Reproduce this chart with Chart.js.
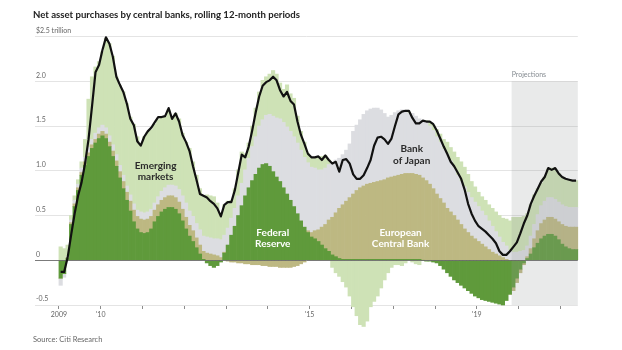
<!DOCTYPE html>
<html><head><meta charset="utf-8">
<script src="https://cdn.jsdelivr.net/npm/chart.js@4.4.1/dist/chart.umd.min.js"></script>
<style>
html,body{margin:0;padding:0;background:#fff;}
#wrap{position:relative;width:622px;height:350px;overflow:hidden;}
#c{position:absolute;left:0;top:0;}
#title{position:absolute;left:33px;top:8.5px;font:700 9.6px/12px Lato, sans-serif;color:#222;white-space:nowrap;}
#source{position:absolute;left:33px;top:335px;font:400 7.5px/10px Lato, sans-serif;color:#666;white-space:nowrap;}
</style></head><body>
<div id="wrap">
<canvas id="c" width="622" height="350"></canvas>
<div id="title">Net asset purchases by central banks, rolling 12-month periods</div>
<div id="source">Source: Citi Research</div>
</div>
<script>
// Monthly, Jan 2009 onward, $ trillion, rolling 12-month net purchases
const fed = [-0.20,-0.15,0.02,0.40,0.60,0.78,0.95,1.06,1.16,1.25,1.31,1.36,1.39,1.36,1.27,1.16,1.05,0.92,0.80,0.67,0.55,0.43,0.35,0.31,0.30,0.31,0.35,0.43,0.49,0.54,0.57,0.59,0.59,0.57,0.52,0.44,0.35,0.27,0.21,0.14,0.07,0.01,-0.03,-0.06,-0.08,-0.06,-0.02,0.08,0.17,0.28,0.38,0.50,0.61,0.72,0.81,0.89,0.96,1.03,1.07,1.08,1.05,0.99,0.93,0.88,0.81,0.74,0.67,0.60,0.52,0.44,0.37,0.31,0.26,0.24,0.21,0.17,0.13,0.10,0.06,0.04,0.02,
0.01,0.01,0.01,0.01,0.01,0.01,0.01,0.01,0.01,0.01,0.01,0.01,0.01,0.01,0.01,0.01,0.01,0.01,0.01,0.01,0.01,0.01,0.01,
0.00,-0.01,-0.01,-0.02,-0.03,-0.06,-0.10,-0.14,-0.18,-0.22,-0.25,-0.28,-0.31,-0.34,-0.37,-0.40,-0.42,-0.44,-0.45,-0.46,-0.47,-0.48,-0.49,-0.50,-0.45,-0.38,-0.30,-0.20,-0.10,-0.03,0.02,0.07,0.14,0.19,0.24,0.27,0.29,0.29,0.27,0.23,0.18,0.15,0.13,0.12,0.12];
const ecb = [0,0,0.01,0.02,0.03,0.03,0.03,0.04,0.04,0.04,0.04,0.05,0.05,0.05,0.05,0.06,0.06,0.07,0.08,0.09,0.11,0.13,0.14,0.15,0.15,0.15,0.14,0.13,0.13,0.13,0.13,0.13,0.13,0.13,0.13,0.13,0.13,0.12,0.12,0.11,0.10,0.09,0.08,0.07,0.06,0.05,0.03,0.01,-0.01,-0.02,-0.02,-0.03,-0.03,-0.04,-0.04,-0.05,-0.05,-0.05,-0.06,-0.06,-0.07,-0.07,-0.07,-0.08,-0.08,-0.08,-0.08,-0.07,-0.06,-0.04,-0.02,0.02,0.05,0.09,0.13,0.20,0.27,0.35,0.42,0.49,0.56,0.61,0.65,0.69,0.73,0.77,0.80,0.82,0.84,0.85,0.86,0.87,0.88,0.89,0.91,0.92,0.93,0.94,0.95,0.96,0.96,0.96,0.95,0.94,0.92,0.89,0.85,0.80,0.74,0.69,0.64,0.58,0.54,0.50,0.45,0.40,0.35,0.31,0.27,0.24,0.21,0.18,0.15,0.12,0.09,0.07,0.05,0.03,0.01,0.00,-0.04,-0.05,-0.04,-0.02,0.02,0.06,0.10,0.14,0.17,0.18,0.19,0.19,0.19,0.20,0.22,0.23,0.24,0.25,0.25];
const boj = [-0.08,-0.04,0.01,0.03,0.04,0.04,0.05,0.05,0.06,0.06,0.07,0.07,0.07,0.07,0.07,0.07,0.07,0.07,0.07,0.07,0.07,0.07,0.07,0.08,0.08,0.08,0.08,0.08,0.09,0.10,0.11,0.12,0.12,0.13,0.14,0.15,0.16,0.16,0.16,0.16,0.17,0.17,0.18,0.18,0.18,0.19,0.20,0.19,0.19,0.19,0.20,0.22,0.25,0.29,0.33,0.38,0.42,0.47,0.50,0.54,0.58,0.62,0.66,0.70,0.73,0.75,0.77,0.78,0.79,0.79,0.78,0.76,0.73,0.70,0.67,0.64,0.63,0.62,0.61,0.59,0.56,0.56,0.57,0.60,0.70,0.73,0.76,0.80,0.82,0.83,0.83,0.82,0.79,0.74,0.68,0.69,0.71,0.72,0.72,0.69,0.67,0.67,0.65,0.63,0.64,0.65,0.65,0.65,0.64,0.63,0.60,0.61,0.57,0.53,0.50,0.48,0.47,0.45,0.43,0.41,0.39,0.37,0.35,0.32,0.29,0.25,0.21,0.17,0.15,0.11,0.09,0.09,0.10,0.11,0.12,0.14,0.16,0.18,0.20,0.21,0.22,0.22,0.22,0.22,0.22,0.22,0.22,0.22,0.22];
const em = [0.15,0.13,0.13,0.05,0.05,0.05,0.07,0.20,0.54,0.70,0.74,0.74,0.82,1.00,1.03,0.99,0.87,0.89,0.93,0.92,0.87,0.89,0.82,0.76,0.85,0.89,0.89,0.88,0.86,0.83,0.79,0.84,0.76,0.81,0.79,0.70,0.68,0.70,0.61,0.54,0.46,0.45,0.47,0.47,0.47,0.40,0.28,0.34,0.30,0.20,0.22,0.29,0.35,0.18,0.17,0.23,0.32,0.38,0.44,0.43,0.45,0.51,0.49,0.40,0.37,0.47,0.42,0.43,0.30,0.21,0.17,0.10,0.11,0.12,0.15,0.15,0.14,0.05,-0.08,-0.14,-0.18,-0.24,-0.30,-0.40,-0.52,-0.62,-0.72,-0.74,-0.68,-0.52,-0.46,-0.40,-0.31,-0.22,-0.14,-0.08,-0.05,-0.05,-0.06,-0.03,0.01,-0.02,-0.04,-0.05,0.00,0.02,0.04,0.06,0.08,0.09,0.11,0.13,0.15,0.18,0.20,0.22,0.22,0.20,0.18,0.17,0.16,0.16,0.17,0.18,0.20,0.22,0.24,0.27,0.30,0.33,0.39,0.39,0.38,0.38,0.36,0.35,0.33,0.29,0.25,0.27,0.32,0.33,0.34,0.32,0.31,0.31,0.31,0.30,0.30];
const total = [-0.13,-0.13,0.03,0.28,0.52,0.72,0.87,1.08,1.35,1.72,2.10,2.18,2.35,2.49,2.42,2.27,2.05,1.96,1.88,1.75,1.58,1.51,1.33,1.28,1.38,1.44,1.48,1.54,1.60,1.60,1.61,1.70,1.58,1.64,1.55,1.40,1.32,1.22,1.05,0.90,0.74,0.72,0.70,0.66,0.63,0.58,0.49,0.62,0.65,0.65,0.78,0.98,1.18,1.15,1.27,1.45,1.65,1.83,1.95,1.99,2.01,2.05,2.01,1.90,1.83,1.88,1.78,1.74,1.55,1.40,1.30,1.19,1.15,1.15,1.16,1.12,1.17,1.12,1.08,1.10,0.99,1.12,1.13,1.08,0.96,0.91,0.91,0.95,1.03,1.12,1.28,1.37,1.38,1.35,1.30,1.36,1.50,1.63,1.66,1.67,1.67,1.59,1.53,1.53,1.56,1.55,1.55,1.52,1.45,1.36,1.27,1.19,1.10,1.05,0.98,0.91,0.79,0.63,0.52,0.44,0.38,0.35,0.32,0.28,0.24,0.19,0.10,0.06,0.06,0.10,0.15,0.20,0.30,0.41,0.50,0.63,0.72,0.80,0.88,0.93,1.03,1.01,1.03,0.97,0.93,0.91,0.90,0.89,0.89];

const firstProjectedMonth = 130;           // Nov 2019
const yearTickValues = [-0.5,11.5,23.5,35.5,47.5,59.5,71.5,83.5,95.5,107.5,119.5,131.5,143.5];
const xTickLabels = ['2009',"'10",'','','','',"'15",'','','',"'19",'',''];
const yTickValues = [-0.5,0,0.5,1,1.5,2,2.5];
const yTickLabels = ['-0.5','0','0.5','1.0','1.5','2.0','$2.5 trillion'];

const months = [];
for (let i = 0; i < fed.length; i++) {
  months.push((2009 + Math.floor(i / 12)) + '-' + String(i % 12 + 1).padStart(2, '0'));
}
const toPts = arr => arr.map((v, i) => ({x: i, y: v}));

const COLORS = {fed:'#5f9a3b', ecb:'#bdb882', boj:'#dcdde1', em:'#cee2b6', line:'#111111'};

const labelsPlugin = {
  id: 'wsjExtras',
  afterDatasetDraw(chart, args) {
    if (args.index !== 0) return;
    const {ctx, chartArea, scales:{x, y}} = chart;
    ctx.save();
    const px0 = x.getPixelForValue(firstProjectedMonth - 0.5);
    const py0 = y.getPixelForValue(2.0);
    ctx.fillStyle = 'rgba(150,156,156,0.21)';
    ctx.fillRect(px0, py0, chartArea.right - px0, chartArea.bottom - py0);
    const z = Math.round(y.getPixelForValue(0)) + 0.5;
    ctx.strokeStyle = 'rgba(100,100,100,0.85)';
    ctx.lineWidth = 1;
    ctx.beginPath(); ctx.moveTo(chartArea.left, z); ctx.lineTo(chartArea.right, z); ctx.stroke();
    ctx.restore();
  },
  afterDraw(chart) {
    const {ctx, scales:{x, y}} = chart;
    ctx.save();
    ctx.textAlign = 'center';
    ctx.textBaseline = 'middle';
    const put = (t, xv, yv, color) => { ctx.fillStyle = color; ctx.fillText(t, x.getPixelForValue(xv), y.getPixelForValue(yv)); };
    ctx.font = '700 10px Lato, sans-serif';
    put('Emerging', 27.25, 1.056, '#2b2b2b');
    put('markets', 27.25, 0.936, '#2b2b2b');
    put('Federal', 60.9, 0.312, '#ffffff');
    put('Reserve', 60.9, 0.189, '#ffffff');
    put('European', 97.6, 0.312, '#ffffff');
    put('Central Bank', 97.6, 0.189, '#ffffff');
    put('Bank', 100.8, 1.243, '#2b2b2b');
    put('of Japan', 100.8, 1.112, '#2b2b2b');
    ctx.textAlign = 'left';
    ctx.font = '400 7px Lato, sans-serif';
    put('Projections', firstProjectedMonth - 0.5, 2.07, '#858b91');
    ctx.restore();
  }
};

new Chart(document.getElementById('c'), {
  type: 'bar',
  data: {
    labels: months,
    datasets: [
      {label:'Federal Reserve', data: toPts(fed), backgroundColor: COLORS.fed, order: 1, stack: 'cb', clip: false},
      {label:'European Central Bank', data: toPts(ecb), backgroundColor: COLORS.ecb, order: 1, stack: 'cb', clip: false},
      {label:'Bank of Japan', data: toPts(boj), backgroundColor: COLORS.boj, order: 1, stack: 'cb', clip: false},
      {label:'Emerging markets', data: toPts(em), backgroundColor: COLORS.em, order: 1, stack: 'cb', clip: false},
      {type:'line', label:'Total', data: toPts(total), borderColor: COLORS.line, borderWidth: 2.2, pointRadius: 0, tension: 0, order: 0, stack: 'total', clip: false, borderJoinStyle: 'round'}
    ]
  },
  options: {
    responsive: false,
    animation: false,
    events: [],
    layout: {padding: {left: 33, right: 44.2, top: 36.5, bottom: 25}},
    plugins: {legend: {display: false}, tooltip: {enabled: false}, title: {display: false}},
    datasets: {bar: {barPercentage: 1, categoryPercentage: 1, borderWidth: 0, borderSkipped: false}},
    scales: {
      x: {
        type: 'linear', min: -7.37, max: 148.5, stacked: true, offset: false,
        afterBuildTicks: s => { s.ticks = yearTickValues.map(v => ({value: v})); },
        afterFit: s => { s.height = 20; },
        grid: {display: true, drawOnChartArea: false, drawTicks: true, tickLength: 4, tickColor: '#8c8c8c', offset: false},
        border: {display: false},
        ticks: {autoSkip: false, maxRotation: 0, minRotation: 0, padding: 2, color: '#666', font: {family: 'Lato', size: 7},
          callback: (v, i) => xTickLabels[i]}
      },
      y: {
        min: -0.5, max: 2.5, stacked: true,
        afterBuildTicks: s => { s.ticks = yTickValues.map(v => ({value: v})); },
        grid: {drawTicks: false, lineWidth: 1, color: c => (c.tick && c.tick.value === 0) ? 'rgba(0,0,0,0)' : '#e4e4e4'},
        border: {display: false},
        ticks: {mirror: true, padding: 1, labelOffset: -6, color: '#666', font: {family: 'Lato', size: 7},
          callback: (v, i) => yTickLabels[i]}
      }
    }
  },
  plugins: [labelsPlugin]
});
</script>
</body></html>
